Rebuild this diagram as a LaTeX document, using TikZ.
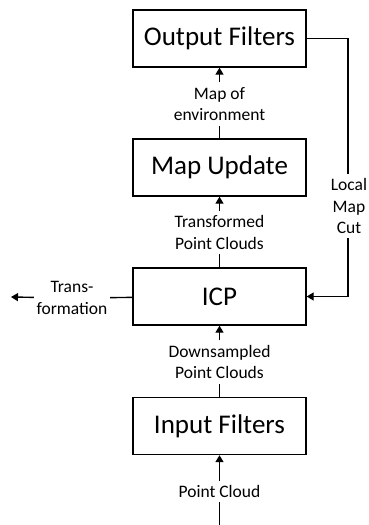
\documentclass[tikz,border=0pt]{standalone}
\usepackage{fontspec}
\setmainfont{Carlito}
\usetikzlibrary{arrows.meta}

\begin{document}
\begin{tikzpicture}[x=1pt, y=-1pt, line width=1.4pt, >={Triangle[length=7pt,width=8pt]},
	box/.style={draw, minimum width=173pt, minimum height=57pt, inner sep=0pt, font=\fontsize{27}{32}\selectfont},
	lbl/.style={align=center, inner xsep=2pt, inner ysep=4pt, font=\fontsize{17.5}{21.5}\selectfont}]
	\useasboundingbox (0,0) rectangle (369,525);
	% processing blocks
	\node[box] (out) at (219.5,38.5) {Output Filters};
	\node[box] (map) at (219.5,167.5) {Map Update};
	\node[box] (icp) at (219.5,296.5) {ICP};
	\node[box] (inp) at (219.5,426) {Input Filters};
	% labels on the connections
	\node[lbl] (env) at (219.5,104) {Map of\\environment};
	\node[lbl] (tpc) at (219.5,232.5) {Transformed\\Point Clouds};
	\node[lbl] (dpc) at (219.5,362) {Downsampled\\Point Clouds};
	\node[lbl] (pc) at (219.5,491.5) {Point Cloud};
	\node[lbl] (cut) at (349,206) {Local\\Map\\Cut};
	\node[lbl] (tf) at (72,298) {Trans-\\formation};
	\coordinate (src) at (219.5,525);
	\coordinate (snk) at (11,297);
	% connections
	\draw (src) -- (pc);
	\draw[->] (pc) -- (inp);
	\draw (inp) -- (dpc);
	\draw[->] (dpc) -- (icp);
	\draw (icp) -- (tpc);
	\draw[->] (tpc) -- (map);
	\draw (map) -- (env);
	\draw[->] (env) -- (out);
	\draw (out.east) -| (cut.north -| 348,0);
	\draw[->] (cut.south -| 348,0) |- (icp.east);
	\draw (icp) -- (tf);
	\draw[->] (tf) -- (snk);
\end{tikzpicture}
\end{document}
